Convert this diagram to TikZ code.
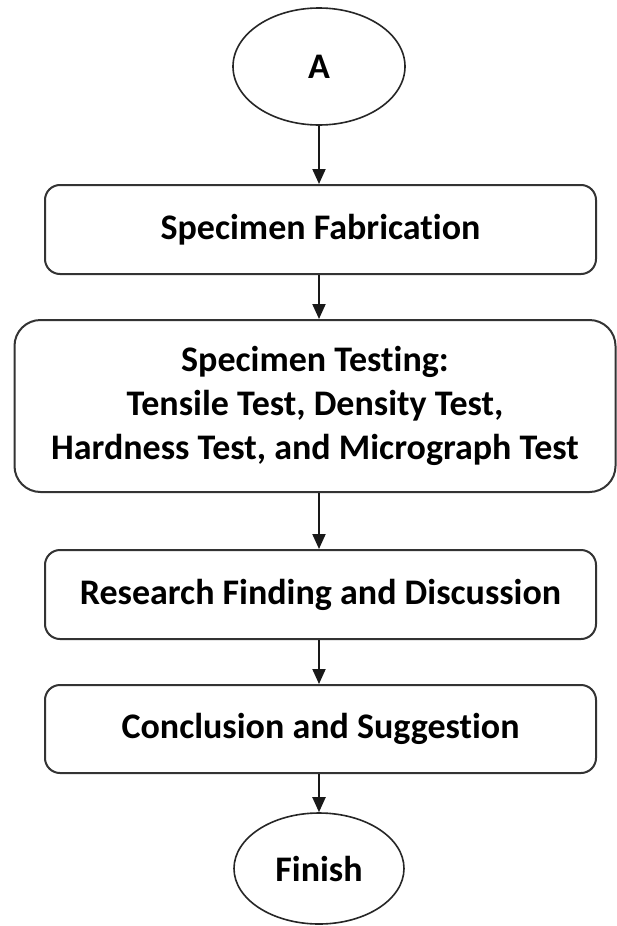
\documentclass[tikz,border=0pt]{standalone}
\usepackage{fontspec}
\setmainfont[Ligatures={NoCommon}]{Carlito}
\usetikzlibrary{shapes.geometric,arrows.meta}
\begin{document}
\begin{tikzpicture}[x=1pt,y=-1pt,
  every node/.style={font=\bfseries\fontsize{36}{44}\selectfont, text=black},
  term/.style={ellipse, draw=black!85, line width=1.6pt, inner sep=0pt},
  stepbox/.style={rectangle, draw=black!80, line width=2pt, inner sep=0pt, align=center},
  flow/.style={draw=black!90, line width=2pt, -{Triangle[width=13pt,length=15pt]}}
]
\useasboundingbox[fill=white] (0,0) rectangle (617,926);
\node[term, minimum width=172pt, minimum height=117pt] (a) at (319,66.5) {A};
\node[stepbox, rounded corners=15pt, minimum width=551pt, minimum height=89pt] (b1) at (320.5,229.5) {Specimen Fabrication};
\node[stepbox, rounded corners=26pt, minimum width=601pt, minimum height=172pt] (b2) at (315,406) {Specimen Testing:\\Tensile Test, Density Test,\\Hardness Test, and Micrograph Test};
\node[stepbox, rounded corners=15pt, minimum width=551pt, minimum height=89pt] (b3) at (320.5,594.5) {Research Finding and Discussion};
\node[stepbox, rounded corners=15pt, minimum width=551pt, minimum height=88pt] (b4) at (320.5,729) {Conclusion and Suggestion};
\node[term, minimum width=170pt, minimum height=111pt] (f) at (319,868.5) {Finish};
\draw[flow] (a.south) -- (a.south |- b1.north);
\draw[flow] (b1.south -| a.south) -- (a.south |- b2.north);
\draw[flow] (b2.south -| a.south) -- (a.south |- b3.north);
\draw[flow] (b3.south -| a.south) -- (a.south |- b4.north);
\draw[flow] (b4.south -| a.south) -- (f.north);
\end{tikzpicture}
\end{document}
